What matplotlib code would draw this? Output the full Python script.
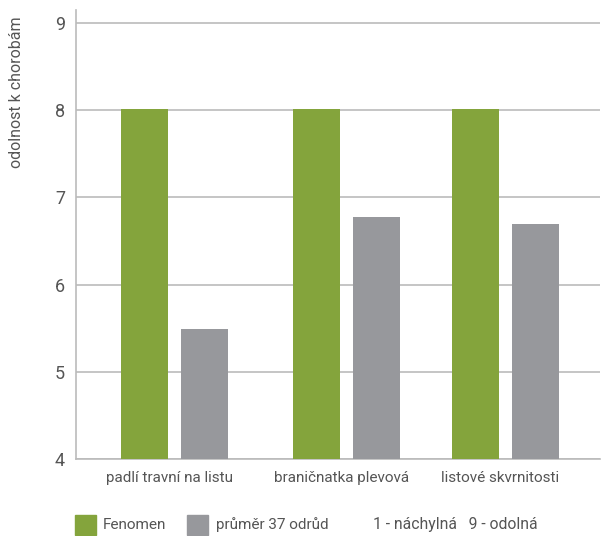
import matplotlib
matplotlib.use('Agg')
import matplotlib.pyplot as plt
from matplotlib.patches import Rectangle
import numpy as np

categories = ['padlí travní na listu', 'braničnatka plevová', 'listové skvrnitosti']
fenomen = [8.02, 8.02, 8.02]
prumer = [5.49, 6.78, 6.70]
yticks = [4, 5, 6, 7, 8, 9]

GREEN = '#84a43c'
GRAY = '#97989c'
TXT = '#555555'
LINE = '#bbbbbb'

plt.rcParams['font.family'] = ['Roboto', 'DejaVu Sans']

fig = plt.figure(figsize=(6.07, 5.36), dpi=100)
ax = fig.add_axes([0.1252, 0.1437, 0.8633, 0.8376])

# group centres (slightly uneven spacing as in the original)
pos = np.array([0.0, 1.0, 1.925])
w = 0.273
off = 0.174
ax.bar(pos - off, fenomen, width=w, bottom=0, color=GREEN, zorder=3)
ax.bar(pos + off, prumer, width=w, bottom=0, color=GRAY, zorder=3)

ax.set_ylim(4, 9.15)
ax.set_xlim(-0.573, 2.474)
ax.set_yticks(yticks)
ax.set_yticklabels([str(t) for t in yticks], fontsize=13, color=TXT)
ax.set_xticks(pos - 0.03)
ax.set_xticklabels(categories, fontsize=11, color=TXT)
ax.tick_params(axis='x', length=0, pad=9)
ax.tick_params(axis='y', length=0, pad=8)
ax.grid(axis='y', color=LINE, linewidth=1.2, zorder=0)
for s in ['top', 'right']:
    ax.spines[s].set_visible(False)
ax.spines['left'].set_color(LINE)
ax.spines['bottom'].set_color(LINE)
ax.spines['left'].set_linewidth(1.2)
ax.spines['bottom'].set_linewidth(1.2)

fig.text(17 / 607, 1 - 92 / 536, 'odolnost k chorobám', rotation=90,
         ha='center', va='center', fontsize=11.5, color=TXT)

# legend row
W, H = 607, 536
def sq(x, color):
    fig.patches.append(Rectangle((x / W, 1 / H), 21 / W, 20 / H,
                                 transform=fig.transFigure, color=color))
sq(75, GREEN)
sq(187, GRAY)
ly = 1 - 525 / H
fig.text(103 / W, ly, 'Fenomen', fontsize=11, color=TXT, va='center')
fig.text(216 / W, ly, 'průměr 37 odrůd', fontsize=11, color=TXT, va='center')
fig.text(373 / W, ly, '1 - náchylná   9 - odolná', fontsize=11.3, color=TXT, va='center')

fig.savefig('out.png', dpi=100)
